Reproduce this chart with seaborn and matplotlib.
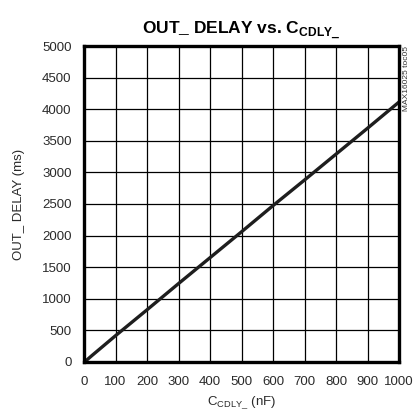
import matplotlib
matplotlib.use("Agg")
import matplotlib.pyplot as plt
import seaborn as sns
import pandas as pd

# C_CDLY (nF) vs OUT_ delay (ms)
c_cdly = [0, 10, 25, 50, 100, 200, 300, 400, 500, 600, 700, 800, 900, 1000]
delay = [0, 35, 100, 205, 415, 825, 1240, 1650, 2060, 2475, 2880, 3290, 3700, 4115]

x_ticks = list(range(0, 1001, 100))
y_ticks = list(range(0, 5001, 500))

df = pd.DataFrame({"c": c_cdly, "d": delay})

sns.set_style("white")
plt.rcParams["font.family"] = ["Liberation Sans", "DejaVu Sans"]
plt.rcParams["mathtext.fontset"] = "custom"
plt.rcParams["mathtext.rm"] = "Liberation Sans"
plt.rcParams["mathtext.bf"] = "Liberation Sans:bold"

fig = plt.figure(figsize=(4.14, 4.15), dpi=100)
ax = fig.add_axes([0.203, 0.128, 0.761, 0.761])

sns.lineplot(data=df, x="c", y="d", ax=ax, color="#1e1e1e", linewidth=2.4)

ax.set_xlim(0, 1000)
ax.set_ylim(0, 5000)
ax.set_xticks(x_ticks)
ax.set_yticks(y_ticks)
ax.grid(True, color="black", linewidth=0.9)
ax.tick_params(length=0, labelsize=9.5, colors="#2a2a2a")
ax.tick_params(axis="x", pad=10)
ax.tick_params(axis="y", pad=9)
for s in ax.spines.values():
    s.set_linewidth(2.4)
    s.set_color("black")

ax.set_xlabel(r"C$_{\mathregular{CDLY\_}}$ (nF)", fontsize=9.5, color="#2a2a2a",
              labelpad=5)
ax.set_ylabel("OUT_ DELAY (ms)", fontsize=9.5, color="#2a2a2a", labelpad=12)
ax.set_title(r"OUT_ DELAY vs. C$_{\mathbf{CDLY\_}}$", fontsize=12.5,
             fontweight="bold", color="black", pad=8)
ax.text(1.012, 1.0, "MAX16025 toc05", transform=ax.transAxes, rotation=90,
        ha="left", va="top", fontsize=6, color="#333333")

fig.savefig("out.png", dpi=100)
